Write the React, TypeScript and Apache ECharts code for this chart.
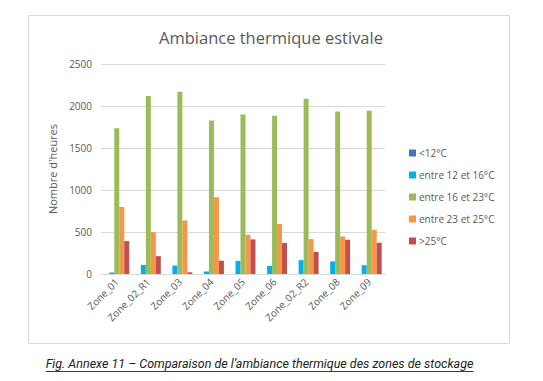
import React, { useEffect, useRef } from "react";
import * as echarts from "echarts";

const categories = ["Zone_01", "Zone_02_R1", "Zone_03", "Zone_04", "Zone_05", "Zone_06", "Zone_02_R2", "Zone_08", "Zone_09"];
const below12 = [0, 0, 0, 0, 0, 0, 0, 0, 0];
const from12to16 = [18, 108, 100, 30, 156, 96, 165, 150, 105];
const from16to23 = [1735, 2120, 2170, 1826, 1900, 1884, 2087, 1934, 1942];
const from23to25 = [798, 498, 638, 914, 466, 596, 416, 446, 524];
const above25 = [392, 213, 20, 158, 412, 370, 262, 408, 372];
const yTicks = [0, 500, 1000, 1500, 2000, 2500];

const seriesNames = ["<12°C", "entre 12 et 16°C", "entre 16 et 23°C", "entre 23 et 25°C", ">25°C"];
const seriesColors = ["#4472C4", "#00B0F0", "#9BBB59", "#F79646", "#C0504D"];

const caption = "Fig. Annexe 11 – Comparaison de l’ambiance thermique des zones de stockage";

export default function App() {
  const ref = useRef<HTMLDivElement>(null);
  useEffect(() => {
    if (!ref.current) return;
    const chart = echarts.init(ref.current, null, { renderer: "svg" });
    const captionFont = "italic 12.5px Roboto";
    let capW = 420;
    try {
      const c = document.createElement("canvas").getContext("2d");
      if (c) { c.font = captionFont; capW = c.measureText(caption).width; }
    } catch (e) {}
    const capCx = 259.5;
    const data = [below12, from12to16, from16to23, from23to25, above25];
    chart.setOption({
      animation: false,
      backgroundColor: "#ffffff",
      title: {
        text: "Ambiance thermique estivale",
        left: 266,
        top: 24,
        textAlign: "center",
        textStyle: { fontFamily: "Open Sans", fontSize: 16.5, fontWeight: "normal", color: "#595959" },
      },
      grid: { left: 101, right: 158, top: 64, bottom: 107, containLabel: false },
      legend: {
        orient: "vertical",
        left: 404,
        top: 142,
        itemWidth: 7,
        itemHeight: 7,
        itemGap: 10,
        icon: "rect",
        data: seriesNames,
        textStyle: { fontFamily: "Open Sans", fontSize: 10, color: "#595959", lineHeight: 12, padding: [0, 0, 0, -2] },
      },
      xAxis: {
        type: "category",
        data: categories,
        axisLine: { lineStyle: { color: "#D9D9D9" } },
        axisTick: { show: false },
        axisLabel: { rotate: 45, fontFamily: "Open Sans", fontSize: 10, color: "#595959", margin: 6, interval: 0 },
      },
      yAxis: {
        type: "value",
        min: yTicks[0],
        max: yTicks[yTicks.length - 1],
        interval: 500,
        name: "Nombre d'heures",
        nameLocation: "middle",
        nameGap: 35,
        nameTextStyle: { fontFamily: "Open Sans", fontSize: 11, color: "#595959" },
        axisLine: { show: false },
        axisTick: { show: false },
        axisLabel: { fontFamily: "Open Sans", fontSize: 10, color: "#595959", margin: 9, formatter: (v: number) => String(v) },
        splitLine: { lineStyle: { color: "#D9D9D9" } },
      },
      series: seriesNames.map((name, i) => ({
        name,
        type: "bar",
        data: data[i],
        barGap: "0%",
        barCategoryGap: "21%",
        itemStyle: { color: seriesColors[i] },
      })),
      graphic: [
        {
          type: "rect",
          shape: { x: 28.5, y: 15.5, width: 481, height: 328 },
          style: { fill: "none", stroke: "#D9D9D9", lineWidth: 1 },
          silent: true,
          z: -1,
        },
        {
          type: "text",
          x: capCx,
          y: 363,
          style: {
            text: caption,
            font: captionFont,
            fill: "#222222",
            textAlign: "center",
            textVerticalAlign: "middle",
          },
        },
        {
          type: "line",
          shape: { x1: capCx - capW / 2, y1: 371.5, x2: capCx + capW / 2, y2: 371.5 },
          style: { stroke: "#222222", lineWidth: 0.9 },
        },
      ],
    });
    return () => chart.dispose();
  }, []);
  return <div ref={ref} style={{ position: "fixed", left: 0, top: 0, width: 543, height: 381 }} />;
}
